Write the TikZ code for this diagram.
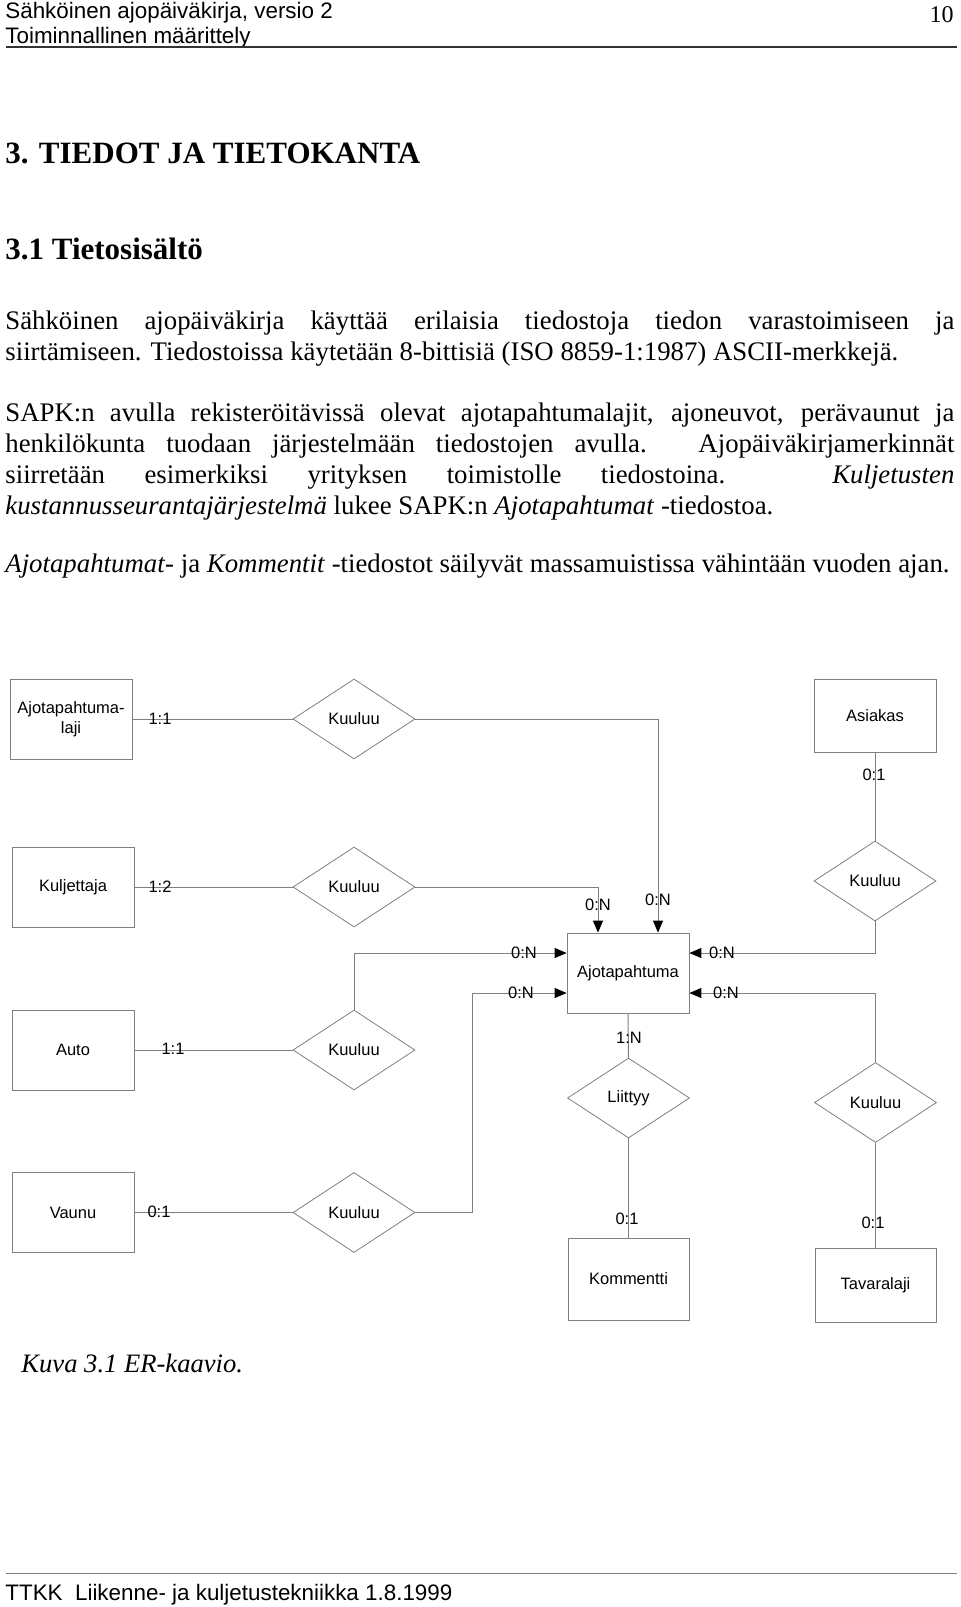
\documentclass[tikz,border=0pt]{standalone}
\usepackage{fontspec}
\setmainfont{Liberation Serif}
\setsansfont{Liberation Sans}
\usetikzlibrary{arrows.meta,shapes.geometric}

\definecolor{linegray}{RGB}{128,128,128}
\newcommand\dfont{\sffamily\fontsize{8.25}{10}\selectfont}
\newcommand\bodyfont{\rmfamily\fontsize{13.4}{15.5}\selectfont}
\newcommand\fullline[1]{\makebox[474.5pt][s]{#1}}

\begin{document}
\begin{tikzpicture}[
    x = 0.5pt, y = -0.5pt, % one unit = one pixel of the page
    entity/.style = {draw = linegray, rectangle, minimum width = 61pt,
      minimum height = 40pt, inner sep = 1pt, align = center, font = \dfont},
    relation/.style = {draw = linegray, diamond, minimum width = 61pt,
      minimum height = 40pt, inner sep = 0pt, font = \dfont},
    card/.style = {inner sep = 0pt, font = \dfont},
    link/.style = {draw = linegray, line width = 0.5pt},
    tolink/.style = {link, -{Triangle[length=6pt,width=5pt,color=black]}},
    textline/.style = {anchor = base west, inner sep = 0pt, align = left}
    ]

    \path[use as bounding box, fill = white] (0,0) rectangle (960,1607);

    % page header
    \node[textline, font = \sffamily\fontsize{11.2}{13}\selectfont] (head1) at (5,18) {Sähköinen ajopäiväkirja, versio 2};
    \node[textline, font = \sffamily\fontsize{11.2}{13}\selectfont] (head2) at (5,43) {Toiminnallinen määrittely};
    \node[anchor = base east, inner sep = 0pt, font = \rmfamily\fontsize{12}{14}\selectfont] (pageno) at (954,22) {10};
    \draw[line width = 1pt, black!80] (6,47) -- (957,47);

    % headings
    \node[textline, font = \rmfamily\bfseries\fontsize{15.5}{18}\selectfont] (chapter) at (5,163) {3. TIEDOT JA TIETOKANTA};
    \node[textline, font = \rmfamily\bfseries\fontsize{15.5}{18}\selectfont] (section) at (5,259) {3.1 Tietosisältö};

    % body text (base anchor sits on the last line)
    \node[textline, font = \bodyfont] (para1) at (5,360) {%
      \fullline{Sähköinen ajopäiväkirja käyttää erilaisia tiedostoja tiedon varastoimiseen ja}\\
      siirtämiseen. Tiedostoissa käytetään 8-bittisiä (ISO 8859-1:1987) ASCII-merkkejä.};
    \node[textline, font = \bodyfont] (para2) at (5,514) {%
      \fullline{SAPK:n avulla rekisteröitävissä olevat ajotapahtumalajit, ajoneuvot, perävaunut ja}\\
      \fullline{henkilökunta tuodaan järjestelmään tiedostojen avulla. Ajopäiväkirjamerkinnät}\\
      \fullline{siirretään esimerkiksi yrityksen toimistolle tiedostoina. \textit{Kuljetusten}}\\
      \textit{kustannusseurantajärjestelmä} lukee SAPK:n \textit{Ajotapahtumat} -tiedostoa.};
    \node[textline, font = \bodyfont] (para3) at (5,572) {%
      \textit{Ajotapahtumat}- ja \textit{Kommentit} -tiedostot säilyvät massamuistissa vähintään vuoden ajan.};

    % entities
    \node[entity] (laji) at (71,719) {Ajotapahtuma-\\laji};
    \node[entity, minimum height = 36.5pt] (asiakas) at (875,715.5) {Asiakas};
    \node[entity] (kuljettaja) at (73,887) {Kuljettaja};
    \node[entity] (auto) at (73,1050) {Auto};
    \node[entity] (vaunu) at (73,1212.5) {Vaunu};
    \node[entity] (ajo) at (628,973) {Ajotapahtuma};
    \node[entity, minimum width = 60.5pt, minimum height = 41pt] (kommentti) at (628.5,1279) {Kommentti};
    \node[entity, minimum width = 60.5pt, minimum height = 37pt] (tavaralaji) at (875.5,1285) {Tavaralaji};

    % relations
    \node[relation] (k1) at (354,719) {Kuuluu};
    \node[relation] (k2) at (354,887) {Kuuluu};
    \node[relation] (k3) at (354,1050) {Kuuluu};
    \node[relation] (k4) at (354,1212.5) {Kuuluu};
    \node[relation] (k5) at (875,881) {Kuuluu};
    \node[relation] (k6) at (875.5,1102.5) {Kuuluu};
    \node[relation] (liittyy) at (628.5,1098) {Liittyy};

    % connectors
    \draw[link] (laji.east) -- (k1.west);
    \draw[tolink] (k1.east) -| ([xshift=15pt]ajo.north);
    \draw[link] (kuljettaja.east) -- (k2.west);
    \draw[tolink] (k2.east) -| ([xshift=-15pt]ajo.north);
    \draw[link] (auto.east) -- (k3.west);
    \draw[tolink] (k3.north) |- ([yshift=10pt]ajo.west);
    \draw[link] (vaunu.east) -- (k4.west);
    \draw[tolink] (k4.east) -- ++(57,0) |- ([yshift=-10pt]ajo.west);
    \draw[link] (asiakas) -- (k5);
    \draw[tolink] (k5.south) |- ([yshift=10pt]ajo.east);
    \draw[tolink] (k6.north) |- ([yshift=-10pt]ajo.east);
    \draw[link] (k6) -- (tavaralaji);
    \draw[link] (ajo) -- (liittyy);
    \draw[link] (liittyy) -- (kommentti);

    % cardinalities
    \node[card] (c1) at (160,719) {1:1};
    \node[card] (c2) at (160,887) {1:2};
    \node[card] (c3) at (173,1049) {1:1};
    \node[card] (c4) at (159,1212) {0:1};
    \node[card] (c5) at (598,905) {0:N};
    \node[card] (c6) at (658,900) {0:N};
    \node[card] (c7) at (524,953) {0:N};
    \node[card] (c8) at (521,993) {0:N};
    \node[card] (c9) at (722,953) {0:N};
    \node[card] (c10) at (726,993) {0:N};
    \node[card] (c11) at (874,775) {0:1};
    \node[card] (c12) at (629,1038) {1:N};
    \node[card] (c13) at (627,1219) {0:1};
    \node[card] (c14) at (873,1223) {0:1};

    % caption and footer
    \node[textline, font = \rmfamily\itshape\fontsize{13.3}{15}\selectfont] (caption) at (21,1372) {Kuva 3.1 ER-kaavio.};
    \draw[line width = 0.5pt, linegray] (6,1573) -- (957,1573);
    \node[textline, font = \sffamily\fontsize{11.2}{13}\selectfont] (foot) at (5,1600) {TTKK\ \ Liikenne- ja kuljetustekniikka 1.8.1999};
\end{tikzpicture}
\end{document}
